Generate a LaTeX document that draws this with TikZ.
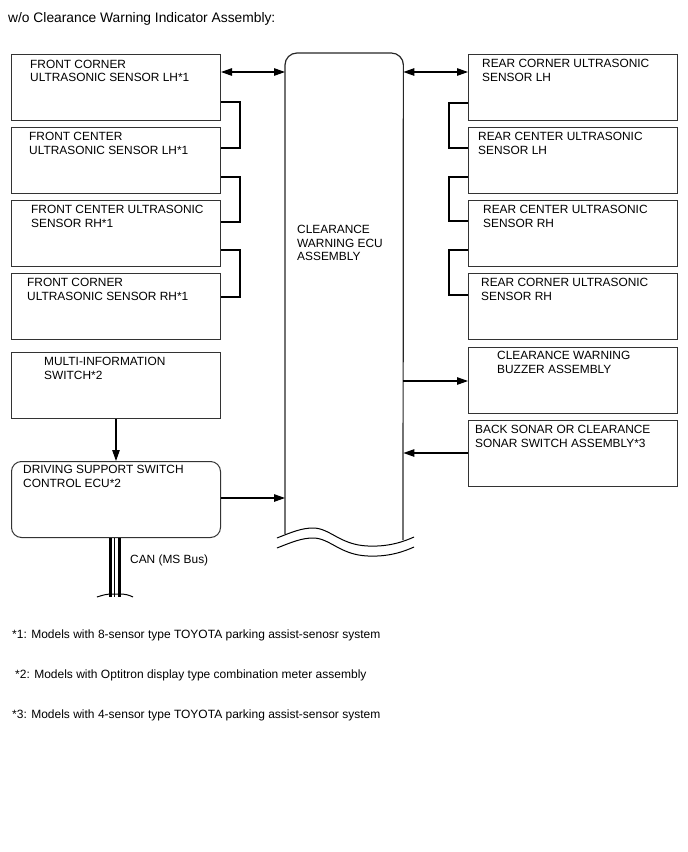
\documentclass[tikz,border=0pt]{standalone}
\usepackage{fontspec}
\setmainfont{Liberation Sans}
\usetikzlibrary{arrows.meta}
\begin{document}
\begin{tikzpicture}[x=1pt,y=-1pt,
  box/.style={draw=black!80, line width=1pt, minimum width=209pt, minimum height=66pt, anchor=north west, inner sep=0pt},
  lbl/.style={anchor=north west, inner sep=0pt, align=left, font=\fontsize{11.9}{13.6}\selectfont},
  conn/.style={line width=1.2pt},
  tip/.tip={Triangle[length=11pt,width=7.5pt]},
  arr/.style={conn, -tip},
  darr/.style={conn, tip-tip}]
\useasboundingbox (0,0) rectangle (688,852);

\node[lbl, font=\fontsize{13.8}{15}\selectfont] (title) at (8,12) {w/o Clearance Warning Indicator Assembly:};

% left boxes
\node[box] (fcl) at (11,54) {};
\node[box] (fcnl) at (11,127) {};
\node[box] (fcnr) at (11,200) {};
\node[box] (fcrr) at (11,273) {};
\node[box] (mis) at (11,352) {};
\node[box, rounded corners=10pt, minimum height=76pt] (dss) at (11,461) {};

\node[lbl] (tfcl) at (30,59.5) {FRONT CORNER\\ULTRASONIC SENSOR LH*1};
\node[lbl] (tfcnl) at (29,132) {FRONT CENTER\\ULTRASONIC SENSOR LH*1};
\node[lbl] (tfcnr) at (31,205) {FRONT CENTER ULTRASONIC\\SENSOR RH*1};
\node[lbl] (tfcrr) at (27,278) {FRONT CORNER\\ULTRASONIC SENSOR RH*1};
\node[lbl] (tmis) at (44,357) {MULTI-INFORMATION\\SWITCH*2};
\node[lbl] (tdss) at (23,465) {DRIVING SUPPORT SWITCH\\CONTROL ECU*2};

% right boxes
\node[box] (rcl) at (468,54) {};
\node[box] (rcnl) at (468,127) {};
\node[box] (rcnr) at (468,200) {};
\node[box] (rcrr) at (468,273) {};
\node[box] (buz) at (468,347) {};
\node[box] (son) at (468,420) {};

\node[lbl] (trcl) at (482,59) {REAR CORNER ULTRASONIC\\SENSOR LH};
\node[lbl] (trcnl) at (478,132) {REAR CENTER ULTRASONIC\\SENSOR LH};
\node[lbl] (trcnr) at (483,205) {REAR CENTER ULTRASONIC\\SENSOR RH};
\node[lbl] (trcrr) at (481,278) {REAR CORNER ULTRASONIC\\SENSOR RH};
\node[lbl] (tbuz) at (497,351) {CLEARANCE WARNING\\BUZZER ASSEMBLY};
\node[lbl] (tson) at (475,425) {BACK SONAR OR CLEARANCE\\SONAR SWITCH ASSEMBLY*3};

% ECU
\node[inner sep=0pt, minimum width=118pt, minimum height=487pt, anchor=north west] (ecu) at (285,53) {};
\draw[draw=black!85, line width=1.2pt, rounded corners=12pt] (285,534) -- (ecu.north west) -- (ecu.north east) -- (403,540);
\draw[line width=1pt] (277,538) .. controls (292,532) and (302,528) .. (313,528)
  .. controls (330,528) and (340,545) .. (368,546) .. controls (390,547) and (405,541) .. (414,537);
\draw[line width=1pt] (277,548) .. controls (292,542) and (302,538) .. (313,538)
  .. controls (330,538) and (340,555) .. (368,556) .. controls (390,557) and (405,551) .. (414,547);
\node[lbl] (tecu) at (297,225) {CLEARANCE\\WARNING ECU\\ASSEMBLY};

% arrows to ECU
\draw[darr] ([yshift=-18pt]fcl.north east) coordinate (a1) -- (a1 -| ecu.west);
\draw[darr] ([yshift=-18pt]rcl.north west) coordinate (a2) -- (a2 -| ecu.east);
\draw[arr] ([yshift=-34pt]buz.north west -| ecu.east) -- ([yshift=-34pt]buz.north west);
\draw[arr] ([yshift=-33pt]son.north west) -- ([yshift=-33pt]son.north west -| ecu.east);
\draw[arr] ([yshift=-37pt]dss.north east) coordinate (a4) -- (a4 -| ecu.west);
\draw[arr] (mis.south) -- (dss.north);

% left brackets
\draw[conn] ([yshift=-48pt]fcl.north east) -- ++(19,0) |- ([yshift=-21pt]fcnl.north east);
\draw[conn] ([yshift=-50pt]fcnl.north east) -- ++(19,0) |- ([yshift=-22pt]fcnr.north east);
\draw[conn] ([yshift=-50pt]fcnr.north east) -- ++(19,0) |- ([yshift=-24pt]fcrr.north east);
% right brackets
\draw[conn] ([yshift=-49pt]rcl.north west) -- ++(-19,0) |- ([yshift=-21pt]rcnl.north west);
\draw[conn] ([yshift=-50pt]rcnl.north west) -- ++(-19,0) |- ([yshift=-21pt]rcnr.north west);
\draw[conn] ([yshift=-50pt]rcnr.north west) -- ++(-19,0) |- ([yshift=-22pt]rcrr.north west);

% CAN bus
\draw[line width=3pt] ([xshift=-6pt]dss.south) -- ++(0,59);
\draw[line width=1.1pt] ([xshift=-1.6pt]dss.south) -- ++(0,59);
\draw[line width=3pt] ([xshift=3pt]dss.south) -- ++(0,59);
\draw[line width=1pt] (97,597) .. controls (103,595) and (107,594) .. (112,594) -- (120,594) .. controls (125,594) and (129,595) .. (133,597);
\node[lbl] (tcan) at (130,555) {CAN (MS Bus)};

% footnotes
\node[lbl, font=\fontsize{12}{14}\selectfont] (n1) at (12,630) {*1: Models with 8-sensor type TOYOTA parking assist-senosr system};
\node[lbl, font=\fontsize{12}{14}\selectfont] (n2) at (15,670) {*2: Models with Optitron display type combination meter assembly};
\node[lbl, font=\fontsize{12}{14}\selectfont] (n3) at (12,710) {*3: Models with 4-sensor type TOYOTA parking assist-sensor system};
\end{tikzpicture}
\end{document}
